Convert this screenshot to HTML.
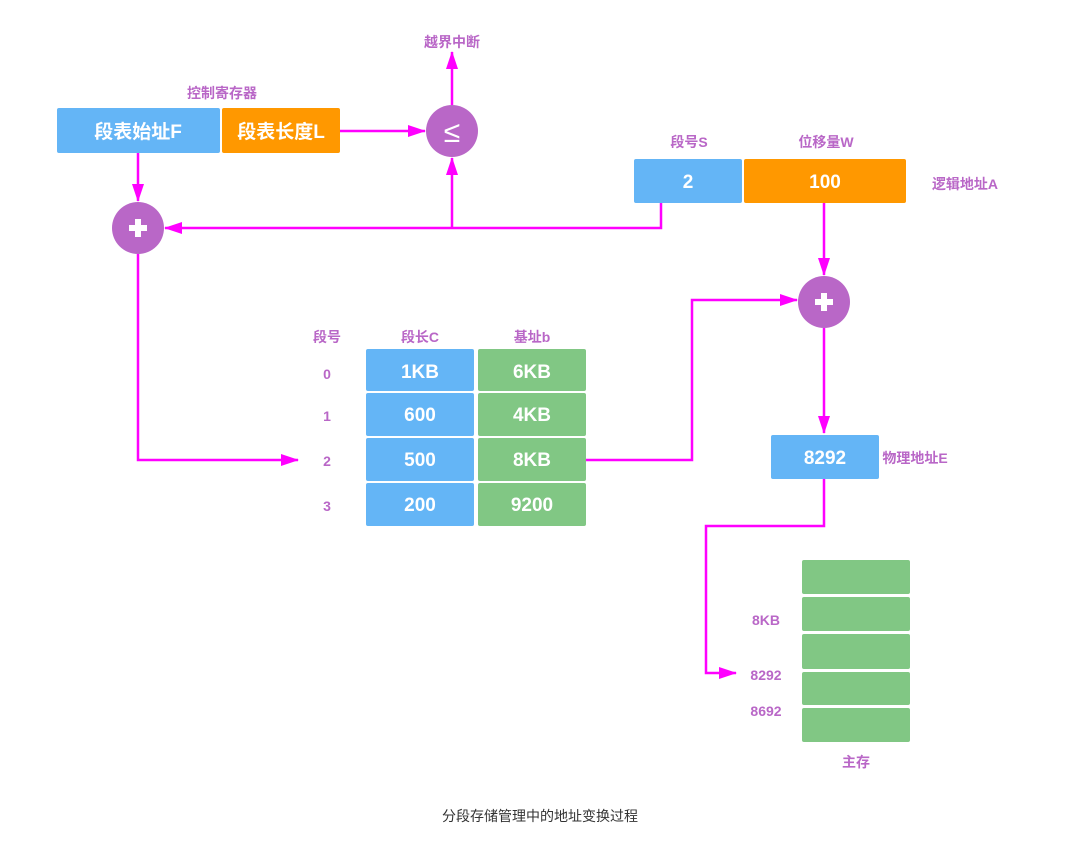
<!DOCTYPE html>
<html><head><meta charset="utf-8"><style>
html,body{margin:0;padding:0;background:#fff}
svg{display:block}
text{font-family:"Liberation Sans","Noto Sans CJK SC",sans-serif;font-weight:bold}
.w{fill:#fff;font-size:19px}
.p{fill:#b967c7;font-size:14px}
</style></head><body>
<svg width="1080" height="846" viewBox="0 0 1080 846" xmlns="http://www.w3.org/2000/svg">
<defs>
<marker id="b" markerWidth="18" markerHeight="12" refX="17" refY="6" orient="auto" markerUnits="userSpaceOnUse"><path d="M0,0 L18,6 L0,12 Z" fill="#ff00ff"/></marker></defs>
<g stroke="#ff00ff" stroke-width="2.5" fill="none" marker-end="url(#b)">
<line x1="340" y1="131" x2="425" y2="131"/>
<line x1="452" y1="105" x2="452" y2="52"/>
<line x1="138" y1="153" x2="138" y2="201"/>
<polyline points="661,203 661,228 165,228"/>
<line x1="452" y1="228" x2="452" y2="158"/>
<line x1="824" y1="203" x2="824" y2="275"/>
<polyline points="138,254 138,460 298,460"/>
<polyline points="586,460 692,460 692,300 797,300"/>
<line x1="824" y1="328" x2="824" y2="433"/>
<polyline points="824,479 824,526 706,526 706,673 736,673"/>
</g>
<rect x="57" y="108" width="163" height="45" rx="2" fill="#64b5f6"/>
<rect x="222" y="108" width="118" height="45" rx="2" fill="#ff9800"/>
<text class="w" x="138" y="138" text-anchor="middle">段表始址F</text>
<text class="w" x="281" y="138" text-anchor="middle">段表长度L</text>
<text class="p" x="222" y="98" text-anchor="middle">控制寄存器</text>
<circle cx="452" cy="131" r="26" fill="#b967c7"/>
<text x="452" y="142" text-anchor="middle" fill="#fff" font-size="30" style="font-weight:normal">≤</text>
<text class="p" x="452" y="47" text-anchor="middle">越界中断</text>
<circle cx="138" cy="228" r="26" fill="#b967c7"/>
<rect x="135" y="219" width="6" height="18" fill="#fff"/><rect x="129" y="225" width="18" height="6" fill="#fff"/>
<circle cx="824" cy="302" r="26" fill="#b967c7"/>
<rect x="821" y="293" width="6" height="18" fill="#fff"/><rect x="815" y="299" width="18" height="6" fill="#fff"/>
<rect x="634" y="159" width="108" height="44" rx="2" fill="#64b5f6"/>
<rect x="744" y="159" width="162" height="44" rx="2" fill="#ff9800"/>
<text class="w" x="688" y="188" text-anchor="middle">2</text>
<text class="w" x="825" y="188" text-anchor="middle">100</text>
<text class="p" x="689" y="147" text-anchor="middle">段号S</text>
<text class="p" x="826" y="147" text-anchor="middle">位移量W</text>
<text class="p" x="965" y="189" text-anchor="middle">逻辑地址A</text>
<text class="p" x="327" y="342" text-anchor="middle">段号</text>
<text class="p" x="420" y="342" text-anchor="middle">段长C</text>
<text class="p" x="532" y="342" text-anchor="middle">基址b</text>
<g>
<rect x="366" y="349" width="108" height="42" rx="2" fill="#64b5f6"/><rect x="478" y="349" width="108" height="42" rx="2" fill="#81c784"/>
<rect x="366" y="393" width="108" height="43" rx="2" fill="#64b5f6"/><rect x="478" y="393" width="108" height="43" rx="2" fill="#81c784"/>
<rect x="366" y="438" width="108" height="43" rx="2" fill="#64b5f6"/><rect x="478" y="438" width="108" height="43" rx="2" fill="#81c784"/>
<rect x="366" y="483" width="108" height="43" rx="2" fill="#64b5f6"/><rect x="478" y="483" width="108" height="43" rx="2" fill="#81c784"/>
</g>
<text class="w" x="420" y="378" text-anchor="middle">1KB</text><text class="w" x="532" y="378" text-anchor="middle">6KB</text>
<text class="w" x="420" y="421" text-anchor="middle">600</text><text class="w" x="532" y="421" text-anchor="middle">4KB</text>
<text class="w" x="420" y="466" text-anchor="middle">500</text><text class="w" x="532" y="466" text-anchor="middle">8KB</text>
<text class="w" x="420" y="511" text-anchor="middle">200</text><text class="w" x="532" y="511" text-anchor="middle">9200</text>
<text class="p" x="327" y="379" text-anchor="middle">0</text>
<text class="p" x="327" y="421" text-anchor="middle">1</text>
<text class="p" x="327" y="466" text-anchor="middle">2</text>
<text class="p" x="327" y="511" text-anchor="middle">3</text>
<rect x="771" y="435" width="108" height="44" rx="2" fill="#64b5f6"/>
<text class="w" x="825" y="464" text-anchor="middle">8292</text>
<text class="p" x="915" y="463" text-anchor="middle">物理地址E</text>
<rect x="802" y="560" width="108" height="34" rx="2" fill="#81c784"/>
<rect x="802" y="597" width="108" height="34" rx="2" fill="#81c784"/>
<rect x="802" y="634" width="108" height="35" rx="2" fill="#81c784"/>
<rect x="802" y="672" width="108" height="33" rx="2" fill="#81c784"/>
<rect x="802" y="708" width="108" height="34" rx="2" fill="#81c784"/>
<text class="p" x="766" y="625" text-anchor="middle">8KB</text>
<text class="p" x="766" y="680" text-anchor="middle">8292</text>
<text class="p" x="766" y="716" text-anchor="middle">8692</text>
<text class="p" x="856" y="767" text-anchor="middle">主存</text>
<text x="540" y="821" text-anchor="middle" fill="#333" font-size="14" style="font-weight:normal">分段存储管理中的地址变换过程</text>
</svg>
</body></html>
